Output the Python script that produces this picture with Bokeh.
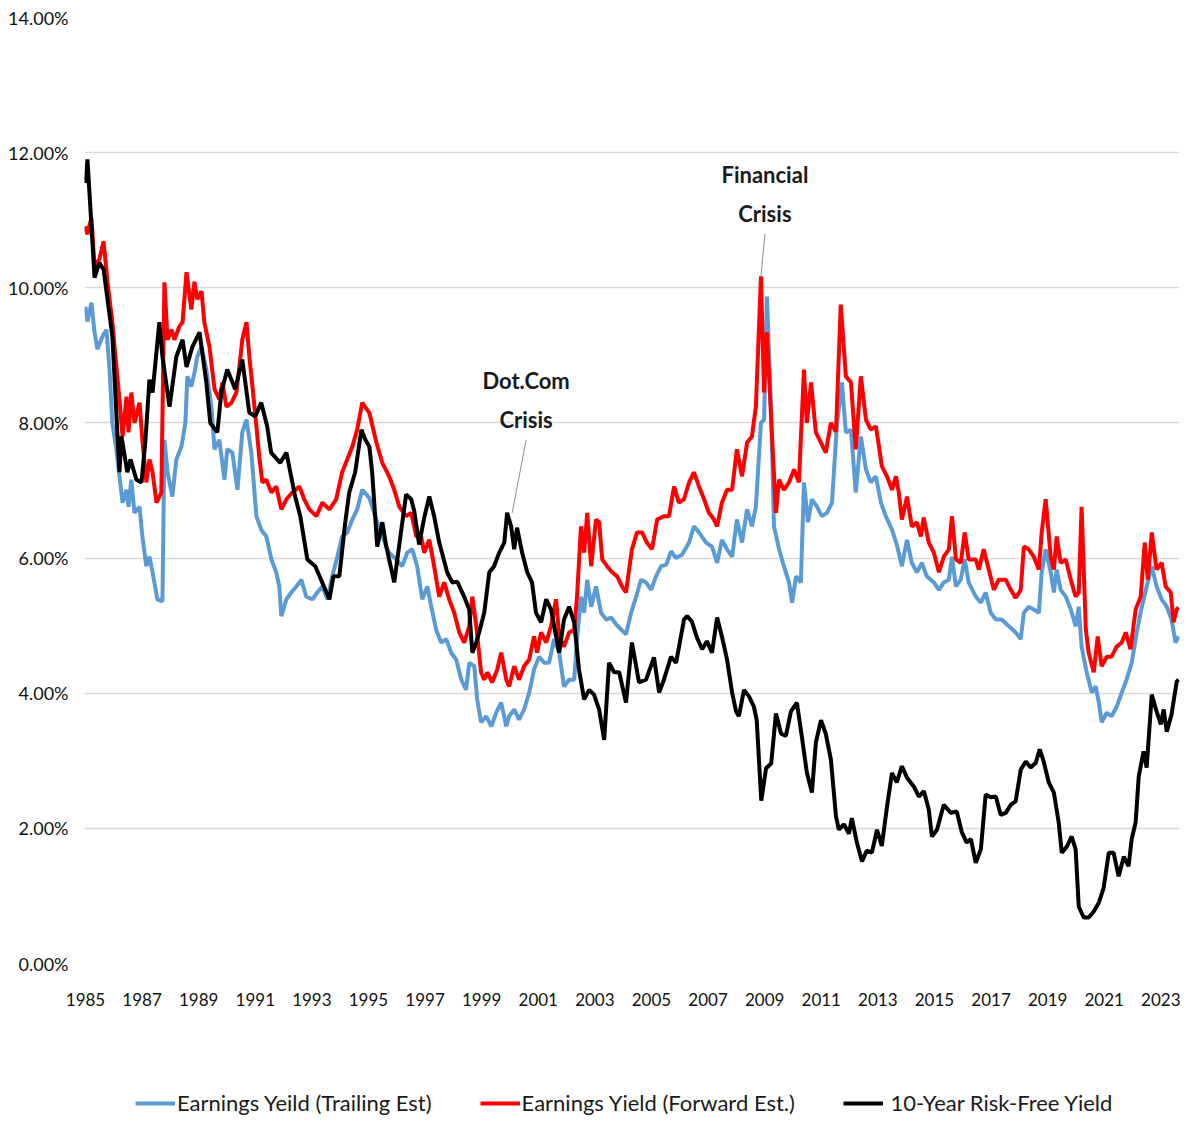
from bokeh.plotting import figure
from bokeh.layouts import column
from bokeh.models import (Range1d, FixedTicker, PrintfTickFormatter, Legend, LegendItem, Label)
from bokeh.embed import file_html
from bokeh.resources import INLINE

# ---------------- data (decimal year, percent) ----------------
trail_years = [1985.0, 1985.07, 1985.21, 1985.32, 1985.42, 1985.6, 1985.74, 1985.85, 1985.95, 1986.09,
               1986.2, 1986.31, 1986.45, 1986.52, 1986.62, 1986.73, 1986.91, 1987.01, 1987.15, 1987.26,
               1987.37, 1987.54, 1987.72, 1987.79, 1987.9, 1988.07, 1988.21, 1988.39, 1988.53, 1988.6,
               1988.74, 1988.85, 1988.95, 1989.1, 1989.27, 1989.45, 1989.56, 1989.73, 1989.91, 1990.01,
               1990.19, 1990.37, 1990.54, 1990.69, 1990.86, 1991.04, 1991.21, 1991.39, 1991.57, 1991.74,
               1991.85, 1991.92, 1992.1, 1992.27, 1992.45, 1992.63, 1992.8, 1993.02, 1993.19, 1993.37,
               1993.55, 1993.72, 1993.9, 1994.07, 1994.25, 1994.43, 1994.6, 1994.78, 1995.03, 1995.28,
               1995.49, 1995.73, 1995.98, 1996.19, 1996.37, 1996.55, 1996.72, 1996.9, 1997.08, 1997.22,
               1997.39, 1997.57, 1997.75, 1997.92, 1998.1, 1998.28, 1998.45, 1998.56, 1998.74, 1998.84,
               1998.98, 1999.16, 1999.34, 1999.51, 1999.69, 1999.87, 1999.97, 2000.15, 2000.32, 2000.5,
               2000.68, 2000.85, 2001.03, 2001.21, 2001.38, 2001.56, 2001.74, 2001.91, 2002.09, 2002.27,
               2002.37, 2002.51, 2002.62, 2002.73, 2002.87, 2003.04, 2003.22, 2003.4, 2003.57, 2003.75,
               2003.93, 2004.1, 2004.28, 2004.46, 2004.63, 2004.81, 2004.99, 2005.16, 2005.34, 2005.52,
               2005.69, 2005.87, 2006.08, 2006.33, 2006.5, 2006.68, 2006.93, 2007.14, 2007.32, 2007.49,
               2007.67, 2007.85, 2008.02, 2008.2, 2008.38, 2008.55, 2008.69, 2008.87, 2008.98, 2009.08,
               2009.22, 2009.33, 2009.51, 2009.68, 2009.86, 2009.97, 2010.11, 2010.28, 2010.39, 2010.53,
               2010.67, 2010.85, 2011.02, 2011.2, 2011.38, 2011.55, 2011.73, 2011.87, 2012.05, 2012.22,
               2012.4, 2012.58, 2012.75, 2012.93, 2013.11, 2013.28, 2013.5, 2013.67, 2013.85, 2014.03,
               2014.2, 2014.38, 2014.56, 2014.73, 2014.98, 2015.16, 2015.33, 2015.51, 2015.62, 2015.76,
               2015.93, 2016.07, 2016.21, 2016.46, 2016.64, 2016.81, 2016.99, 2017.17, 2017.38, 2017.63,
               2017.87, 2018.05, 2018.16, 2018.33, 2018.51, 2018.69, 2018.79, 2018.93, 2019.11, 2019.22,
               2019.32, 2019.46, 2019.64, 2019.82, 2019.99, 2020.1, 2020.2, 2020.38, 2020.56, 2020.7,
               2020.81, 2020.91, 2021.09, 2021.26, 2021.44, 2021.62, 2021.79, 2021.97, 2022.15, 2022.33,
               2022.5, 2022.68, 2022.85, 2023.03, 2023.21, 2023.38, 2023.52, 2023.63]
trail_vals = [9.72, 9.5, 9.78, 9.34, 9.09, 9.28, 9.38, 8.79, 8.0, 7.61,
              7.21, 6.82, 7.01, 6.76, 7.16, 6.67, 6.76, 6.32, 5.88, 6.02,
              5.79, 5.39, 5.36, 7.75, 7.27, 6.91, 7.46, 7.65, 8.0, 8.69,
              8.54, 8.74, 8.98, 9.13, 8.79, 8.24, 7.61, 7.75, 7.16, 7.61,
              7.56, 7.01, 7.86, 8.05, 7.56, 6.62, 6.42, 6.32, 5.98, 5.79,
              5.58, 5.14, 5.39, 5.49, 5.58, 5.68, 5.43, 5.39, 5.49, 5.58,
              5.39, 5.73, 6.02, 6.32, 6.38, 6.57, 6.72, 7.01, 6.89, 6.57,
              6.32, 6.08, 5.98, 5.88, 6.08, 6.13, 5.88, 5.39, 5.58, 5.28,
              4.94, 4.75, 4.8, 4.6, 4.5, 4.2, 4.05, 4.45, 4.4, 3.91,
              3.57, 3.66, 3.51, 3.71, 3.86, 3.51, 3.66, 3.76, 3.61, 3.76,
              4.01, 4.35, 4.54, 4.45, 4.45, 4.8, 4.6, 4.1, 4.2, 4.2,
              4.8, 5.43, 5.19, 5.68, 5.28, 5.58, 5.19, 5.09, 5.12, 5.02,
              4.94, 4.87, 5.19, 5.43, 5.68, 5.64, 5.53, 5.73, 5.88, 5.9,
              6.1, 6.0, 6.05, 6.23, 6.47, 6.38, 6.23, 6.17, 5.93, 6.27,
              6.13, 6.02, 6.57, 6.23, 6.72, 6.47, 6.76, 8.0, 8.05, 9.87,
              8.3, 6.47, 6.13, 5.88, 5.64, 5.34, 5.73, 5.64, 7.12, 6.53,
              6.87, 6.76, 6.62, 6.67, 6.82, 7.95, 8.6, 7.86, 7.9, 6.97,
              7.8, 7.31, 7.12, 7.21, 6.82, 6.62, 6.42, 6.2, 5.88, 6.27,
              5.93, 5.79, 5.93, 5.73, 5.64, 5.53, 5.64, 5.68, 6.02, 5.58,
              5.68, 5.98, 5.64, 5.43, 5.34, 5.49, 5.19, 5.09, 5.09, 4.99,
              4.9, 4.8, 5.19, 5.28, 5.24, 5.19, 5.79, 6.13, 5.79, 5.49,
              5.83, 5.53, 5.43, 5.24, 4.99, 5.28, 4.69, 4.31, 4.01, 4.1,
              3.86, 3.57, 3.71, 3.66, 3.8, 4.01, 4.2, 4.45, 4.9, 5.28,
              5.58, 5.88, 5.58, 5.39, 5.28, 5.09, 4.75, 4.84]

fwd_years = [1985.0, 1985.07, 1985.21, 1985.32, 1985.49, 1985.64, 1985.78, 1985.95, 1986.09, 1986.2,
             1986.31, 1986.45, 1986.52, 1986.62, 1986.73, 1986.91, 1987.01, 1987.15, 1987.26, 1987.37,
             1987.51, 1987.68, 1987.79, 1987.9, 1988.04, 1988.14, 1988.32, 1988.43, 1988.57, 1988.74,
             1988.85, 1988.95, 1989.1, 1989.2, 1989.38, 1989.56, 1989.73, 1989.84, 1989.98, 1990.16,
             1990.33, 1990.44, 1990.54, 1990.69, 1990.79, 1990.9, 1991.04, 1991.14, 1991.25, 1991.39,
             1991.57, 1991.74, 1991.92, 1992.1, 1992.31, 1992.56, 1992.73, 1992.91, 1993.16, 1993.37,
             1993.62, 1993.86, 1994.07, 1994.25, 1994.43, 1994.6, 1994.78, 1995.03, 1995.28, 1995.49,
             1995.73, 1995.91, 1996.09, 1996.33, 1996.51, 1996.69, 1996.86, 1996.97, 1997.15, 1997.32,
             1997.5, 1997.68, 1997.85, 1998.03, 1998.21, 1998.38, 1998.56, 1998.67, 1998.81, 1998.98,
             1999.09, 1999.2, 1999.37, 1999.55, 1999.69, 1999.87, 1999.97, 2000.15, 2000.32, 2000.5,
             2000.68, 2000.85, 2000.96, 2001.1, 2001.28, 2001.45, 2001.63, 2001.74, 2001.91, 2002.09,
             2002.27, 2002.37, 2002.51, 2002.62, 2002.73, 2002.87, 2003.04, 2003.15, 2003.26, 2003.43,
             2003.61, 2003.79, 2003.96, 2004.1, 2004.31, 2004.49, 2004.67, 2004.84, 2005.02, 2005.2,
             2005.44, 2005.62, 2005.8, 2005.97, 2006.15, 2006.33, 2006.5, 2006.68, 2006.86, 2007.03,
             2007.21, 2007.32, 2007.49, 2007.67, 2007.85, 2008.02, 2008.2, 2008.38, 2008.55, 2008.69,
             2008.87, 2008.98, 2009.08, 2009.26, 2009.4, 2009.51, 2009.68, 2009.86, 2010.04, 2010.21,
             2010.39, 2010.49, 2010.64, 2010.81, 2010.99, 2011.16, 2011.34, 2011.52, 2011.69, 2011.87,
             2012.05, 2012.22, 2012.4, 2012.58, 2012.75, 2012.93, 2013.04, 2013.14, 2013.32, 2013.5,
             2013.64, 2013.74, 2013.85, 2014.03, 2014.2, 2014.38, 2014.52, 2014.62, 2014.8, 2014.98,
             2015.16, 2015.33, 2015.51, 2015.62, 2015.76, 2015.93, 2016.07, 2016.21, 2016.46, 2016.57,
             2016.74, 2016.92, 2017.1, 2017.27, 2017.52, 2017.7, 2017.87, 2018.05, 2018.16, 2018.33,
             2018.51, 2018.69, 2018.79, 2018.93, 2019.11, 2019.22, 2019.32, 2019.46, 2019.64, 2019.82,
             2019.99, 2020.1, 2020.2, 2020.35, 2020.45, 2020.63, 2020.77, 2020.91, 2021.09, 2021.26,
             2021.44, 2021.62, 2021.76, 2021.93, 2022.11, 2022.29, 2022.43, 2022.54, 2022.68, 2022.85,
             2023.03, 2023.17, 2023.35, 2023.45, 2023.56, 2023.63]
fwd_vals = [10.91, 10.79, 11.04, 10.32, 10.42, 10.69, 10.08, 9.49, 8.84, 8.35,
            7.8, 8.39, 7.86, 8.45, 8.0, 8.3, 7.75, 7.12, 7.46, 7.27,
            6.82, 6.97, 10.08, 9.23, 9.38, 9.23, 9.43, 9.49, 10.23, 9.68,
            10.09, 9.83, 9.95, 9.49, 9.13, 8.5, 8.35, 8.6, 8.24, 8.3,
            8.45, 8.84, 9.23, 9.49, 8.98, 8.54, 7.95, 7.5, 7.12, 7.16,
            6.97, 7.06, 6.72, 6.87, 6.97, 7.06, 6.87, 6.72, 6.62, 6.82,
            6.72, 6.87, 7.27, 7.46, 7.65, 7.9, 8.3, 8.15, 7.71, 7.41,
            7.21, 7.01, 6.76, 6.62, 6.67, 6.32, 6.32, 6.08, 6.27, 5.88,
            5.43, 5.64, 5.39, 5.19, 4.9, 4.75, 4.99, 5.43, 4.99, 4.31,
            4.2, 4.31, 4.16, 4.35, 4.6, 4.2, 4.1, 4.4, 4.2, 4.4,
            4.5, 4.84, 4.6, 4.9, 4.75, 4.99, 5.39, 4.84, 4.69, 4.9,
            4.94, 5.43, 6.47, 6.08, 6.67, 5.88, 6.57, 6.53, 5.98, 5.88,
            5.79, 5.73, 5.58, 5.49, 6.13, 6.38, 6.38, 6.23, 6.13, 6.57,
            6.62, 6.62, 7.06, 6.82, 6.87, 7.12, 7.27, 7.06, 6.87, 6.67,
            6.57, 6.47, 6.82, 7.01, 7.01, 7.61, 7.21, 7.71, 7.8, 8.24,
            10.17, 8.45, 9.34, 7.8, 6.67, 7.16, 7.01, 7.12, 7.31, 7.12,
            8.79, 8.0, 8.6, 7.86, 7.71, 7.56, 8.0, 7.87, 9.75, 8.69,
            8.6, 7.61, 8.69, 8.05, 7.9, 7.95, 7.65, 7.36, 7.21, 7.01,
            7.21, 6.97, 6.57, 6.91, 6.47, 6.53, 6.32, 6.6, 6.23, 6.08,
            5.79, 6.02, 6.13, 6.62, 5.98, 5.93, 6.38, 5.98, 5.98, 5.83,
            6.13, 5.83, 5.53, 5.68, 5.68, 5.53, 5.41, 5.53, 6.17, 6.13,
            6.02, 5.83, 6.38, 6.87, 6.02, 5.83, 6.32, 5.93, 5.98, 5.68,
            5.43, 5.49, 6.76, 4.94, 4.6, 4.31, 4.84, 4.4, 4.54, 4.54,
            4.69, 4.75, 4.9, 4.65, 5.24, 5.43, 6.23, 5.68, 6.38, 5.83,
            5.93, 5.58, 5.49, 5.05, 5.24, 5.27]

rf_years = [1985.0, 1985.07, 1985.32, 1985.49, 1985.64, 1985.95, 1986.2, 1986.27, 1986.48, 1986.59,
            1986.8, 1986.98, 1987.12, 1987.26, 1987.37, 1987.61, 1987.72, 1987.97, 1988.21, 1988.43,
            1988.57, 1988.78, 1989.03, 1989.27, 1989.41, 1989.66, 1989.8, 1990.01, 1990.29, 1990.54,
            1990.79, 1991.0, 1991.21, 1991.42, 1991.56, 1991.88, 1992.1, 1992.41, 1992.59, 1992.84,
            1993.12, 1993.62, 1993.76, 1993.97, 1994.18, 1994.32, 1994.53, 1994.75, 1994.89, 1995.03,
            1995.13, 1995.31, 1995.49, 1995.63, 1995.91, 1996.16, 1996.33, 1996.51, 1996.62, 1996.79,
            1996.97, 1997.15, 1997.32, 1997.5, 1997.78, 1997.96, 1998.14, 1998.38, 1998.56, 1998.67,
            1998.81, 1998.91, 1999.09, 1999.27, 1999.44, 1999.62, 1999.8, 1999.9, 2000.04, 2000.15,
            2000.25, 2000.43, 2000.61, 2000.78, 2000.92, 2001.1, 2001.28, 2001.45, 2001.63, 2001.74,
            2001.91, 2002.09, 2002.27, 2002.44, 2002.62, 2002.8, 2002.97, 2003.15, 2003.33, 2003.5,
            2003.68, 2003.86, 2004.1, 2004.31, 2004.56, 2004.81, 2005.09, 2005.27, 2005.44, 2005.69,
            2005.87, 2006.15, 2006.26, 2006.43, 2006.61, 2006.79, 2006.96, 2007.14, 2007.32, 2007.49,
            2007.67, 2007.85, 2007.99, 2008.09, 2008.27, 2008.45, 2008.62, 2008.72, 2008.88, 2009.05,
            2009.23, 2009.4, 2009.58, 2009.75, 2009.93, 2010.14, 2010.32, 2010.49, 2010.67, 2010.81,
            2010.99, 2011.16, 2011.34, 2011.52, 2011.62, 2011.8, 2011.98, 2012.08, 2012.26, 2012.44,
            2012.61, 2012.79, 2012.97, 2013.14, 2013.32, 2013.5, 2013.67, 2013.85, 2014.03, 2014.27,
            2014.45, 2014.63, 2014.8, 2014.91, 2015.09, 2015.33, 2015.58, 2015.79, 2015.97, 2016.14,
            2016.29, 2016.46, 2016.64, 2016.81, 2016.99, 2017.17, 2017.34, 2017.52, 2017.7, 2017.87,
            2018.05, 2018.23, 2018.4, 2018.58, 2018.72, 2018.86, 2019.04, 2019.22, 2019.39, 2019.5,
            2019.68, 2019.85, 2019.99, 2020.1, 2020.28, 2020.45, 2020.63, 2020.81, 2020.98, 2021.16,
            2021.33, 2021.51, 2021.69, 2021.86, 2021.97, 2022.11, 2022.22, 2022.39, 2022.5, 2022.68,
            2022.85, 2023.0, 2023.1, 2023.21, 2023.38, 2023.56, 2023.63]
rf_vals = [11.55, 11.9, 10.15, 10.37, 10.27, 9.28, 7.27, 7.8, 7.27, 7.46,
           7.16, 7.12, 7.75, 8.64, 8.45, 9.49, 8.98, 8.24, 8.98, 9.23,
           8.83, 9.13, 9.34, 8.6, 8.0, 7.86, 8.45, 8.79, 8.5, 8.94,
           8.15, 8.1, 8.3, 7.95, 7.56, 7.41, 7.56, 6.91, 6.62, 5.98,
           5.88, 5.39, 5.73, 5.73, 6.53, 6.97, 7.27, 7.9, 7.75, 7.65,
           7.27, 6.17, 6.53, 6.17, 5.64, 6.42, 6.94, 6.87, 6.69, 6.2,
           6.6, 6.91, 6.62, 6.23, 5.79, 5.64, 5.65, 5.43, 5.24, 4.6,
           4.75, 4.9, 5.19, 5.79, 5.88, 6.08, 6.23, 6.67, 6.47, 6.13,
           6.45, 6.08, 5.79, 5.64, 5.19, 5.05, 5.39, 5.24, 4.84, 4.6,
           5.09, 5.28, 5.05, 4.35, 3.91, 4.05, 3.98, 3.76, 3.31, 4.45,
           4.31, 4.31, 3.86, 4.75, 4.16, 4.2, 4.53, 4.01, 4.2, 4.54,
           4.45, 5.09, 5.14, 5.06, 4.82, 4.65, 4.77, 4.6, 5.12, 4.84,
           4.5, 4.01, 3.73, 3.66, 4.05, 3.95, 3.8, 3.6, 2.41, 2.89,
           2.96, 3.7, 3.4, 3.37, 3.73, 3.86, 3.34, 2.83, 2.53, 3.27,
           3.6, 3.4, 3.02, 2.18, 1.98, 2.06, 1.92, 2.15, 1.79, 1.51,
           1.67, 1.64, 1.98, 1.74, 2.31, 2.82, 2.68, 2.92, 2.75, 2.62,
           2.47, 2.55, 2.28, 1.88, 1.98, 2.35, 2.23, 2.25, 1.94, 1.79,
           1.84, 1.49, 1.69, 2.5, 2.46, 2.47, 2.2, 2.23, 2.35, 2.4,
           2.87, 2.99, 2.9, 2.97, 3.17, 2.99, 2.68, 2.53, 2.09, 1.64,
           1.73, 1.88, 1.69, 0.84, 0.68, 0.68, 0.77, 0.9, 1.12, 1.64,
           1.64, 1.29, 1.58, 1.44, 1.84, 2.09, 2.77, 3.14, 2.9, 3.98,
           3.73, 3.54, 3.76, 3.43, 3.69, 4.17, 4.2]

x_tick_years = list(range(1985, 2024, 2))
y_tick_vals = [0, 2, 4, 6, 8, 10, 12, 14]

series_names = ["Earnings Yeild (Trailing Est)", "Earnings Yield (Forward Est.)", " 10-Year Risk-Free Yield"]
series_colors = ["#5B9BD5", "#FF0000", "#000000"]

# annotations: (year, percent)
ann_fin_text = ["Financial", "Crisis"]
ann_fin_pos = [(2009.01, 11.68), (2009.01, 11.10)]
ann_fin_leader = ([2009.01, 2008.87], [10.80, 10.17])
ann_dot_text = ["Dot.Com", "Crisis"]
ann_dot_pos = [(2000.57, 8.63), (2000.57, 8.05)]
ann_dot_leader = ([2000.57, 2000.08], [7.75, 6.67])

FONT = "Lato"

# ---------------- main chart ----------------
p = figure(width=1180, height=1078, output_backend="svg", toolbar_location=None,
           x_range=Range1d(1984.965, 2023.66), y_range=Range1d(0, 14),
           min_border_left=84, min_border_right=1, min_border_top=17, min_border_bottom=115)
p.outline_line_color = None
p.background_fill_color = "white"
p.border_fill_color = "white"

p.xgrid.grid_line_color = None
p.ygrid.grid_line_color = "#D9D9D9"
p.ygrid.grid_line_width = 1.3
p.ygrid.ticker = FixedTicker(ticks=y_tick_vals)

p.yaxis.ticker = FixedTicker(ticks=y_tick_vals)
p.yaxis.formatter = PrintfTickFormatter(format="%.2f%%")
p.xaxis.ticker = FixedTicker(ticks=x_tick_years)
p.xaxis.formatter = PrintfTickFormatter(format="%d")
for ax in (p.xaxis, p.yaxis):
    ax.axis_line_color = None
    ax.major_tick_line_color = None
    ax.minor_tick_line_color = None
    ax.major_label_text_font = FONT
    ax.major_label_text_color = "#111111"
p.xaxis.major_label_text_font_size = "17px"
p.yaxis.major_label_text_font_size = "18px"
p.yaxis.major_label_standoff = 10
p.xaxis.major_label_standoff = 23

lw = 4
p.line(trail_years, trail_vals, line_color=series_colors[0], line_width=lw)
p.line(fwd_years, fwd_vals, line_color=series_colors[1], line_width=lw)
p.line(rf_years, rf_vals, line_color=series_colors[2], line_width=lw)

# leader lines
p.line(ann_fin_leader[0], ann_fin_leader[1], line_color="#8c8c8c", line_width=1)
p.line(ann_dot_leader[0], ann_dot_leader[1], line_color="#8c8c8c", line_width=1)

for txt, (xx, yy) in list(zip(ann_fin_text, ann_fin_pos)) + list(zip(ann_dot_text, ann_dot_pos)):
    p.add_layout(Label(x=xx, y=yy, text=txt, text_align="center", text_baseline="middle",
                       text_font=FONT, text_font_size="22px", text_font_style="bold",
                       text_color="#1a1a1a"))

# ---------------- legend strip ----------------
pl = figure(width=1180, height=42, output_backend="svg", toolbar_location=None,
            x_axis_type=None, y_axis_type=None, x_range=Range1d(0, 1), y_range=Range1d(0, 1),
            min_border=0)
pl.outline_line_color = None
pl.grid.grid_line_color = None
# single-point lines: draw nothing in the strip, only feed the legend swatches
rends = [pl.line(x=[0.5], y=[0.5], line_color=c, line_width=lw) for c in series_colors]
legend = Legend(items=[LegendItem(label=n, renderers=[r]) for n, r in zip(series_names, rends)],
                orientation="horizontal", location=(51, 4),
                label_text_font=FONT, label_text_font_size="22px", label_text_color="#1a1a1a",
                glyph_width=40, glyph_height=26, label_standoff=2, spacing=48,
                padding=4, margin=0, border_line_color=None, background_fill_alpha=0)
pl.add_layout(legend, "center")

layout = column(p, pl, spacing=0)
open("out.html", "w").write(file_html(layout, INLINE))
